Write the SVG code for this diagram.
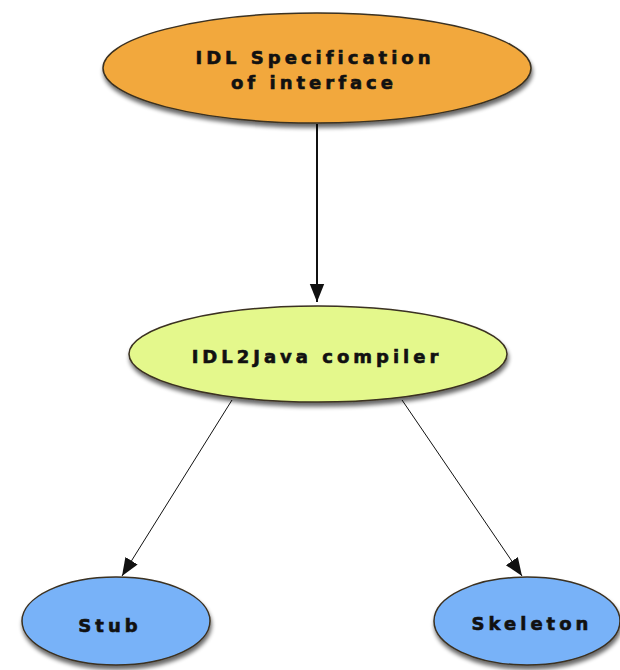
<svg xmlns="http://www.w3.org/2000/svg" width="620" height="670" viewBox="0 0 620 670">
<style>
.node{stroke:#3a3020;stroke-width:1.5}
.lbl{font-family:"DejaVu Sans","Liberation Sans",sans-serif;font-weight:bold;font-size:18px;letter-spacing:4px;fill:#111;stroke:#111;stroke-width:0.6;text-anchor:middle}
.edge{stroke:#111;fill:none}
</style>
<defs>
<filter id="sh" x="-20%" y="-20%" width="140%" height="160%">
<feGaussianBlur in="SourceAlpha" stdDeviation="2"/>
<feOffset dx="1" dy="4"/>
<feComponentTransfer><feFuncA type="linear" slope="0.6"/></feComponentTransfer>
<feMerge><feMergeNode/><feMergeNode in="SourceGraphic"/></feMerge>
</filter>
<marker id="ahb" viewBox="0 0 10 10" refX="10" refY="5" markerWidth="18" markerHeight="18" markerUnits="userSpaceOnUse" orient="auto">
<path d="M0,1 L10,5 L0,9 z" fill="#111"/>
</marker>
</defs>
<g id="connectors">
<line class="edge" x1="317" y1="124" x2="317" y2="302" stroke-width="2" marker-end="url(#ahb)"/>
<line class="edge" x1="232" y1="400" x2="122" y2="576" stroke-width="1" marker-end="url(#ahb)"/>
<line class="edge" x1="402" y1="400" x2="522" y2="576" stroke-width="1" marker-end="url(#ahb)"/>
</g>
<g id="idl-spec">
<ellipse class="node" cx="317" cy="68" rx="214" ry="55" fill="#F2A83C" filter="url(#sh)"/>
<text class="lbl" x="315" y="64">IDL Specification</text>
<text class="lbl" x="314" y="89">of interface</text>
</g>
<g id="idl2java">
<ellipse class="node" cx="318" cy="354" rx="189" ry="48" fill="#E4F88C" filter="url(#sh)"/>
<text class="lbl" x="317" y="363">IDL2Java compiler</text>
</g>
<g id="stub">
<ellipse class="node" cx="116" cy="621" rx="94" ry="44" fill="#78B2F8" filter="url(#sh)"/>
<text class="lbl" x="110" y="632">Stub</text>
</g>
<g id="skeleton">
<ellipse class="node" cx="527" cy="621" rx="93" ry="44" fill="#78B2F8" filter="url(#sh)"/>
<text class="lbl" x="532" y="630">Skeleton</text>
</g>
</svg>
